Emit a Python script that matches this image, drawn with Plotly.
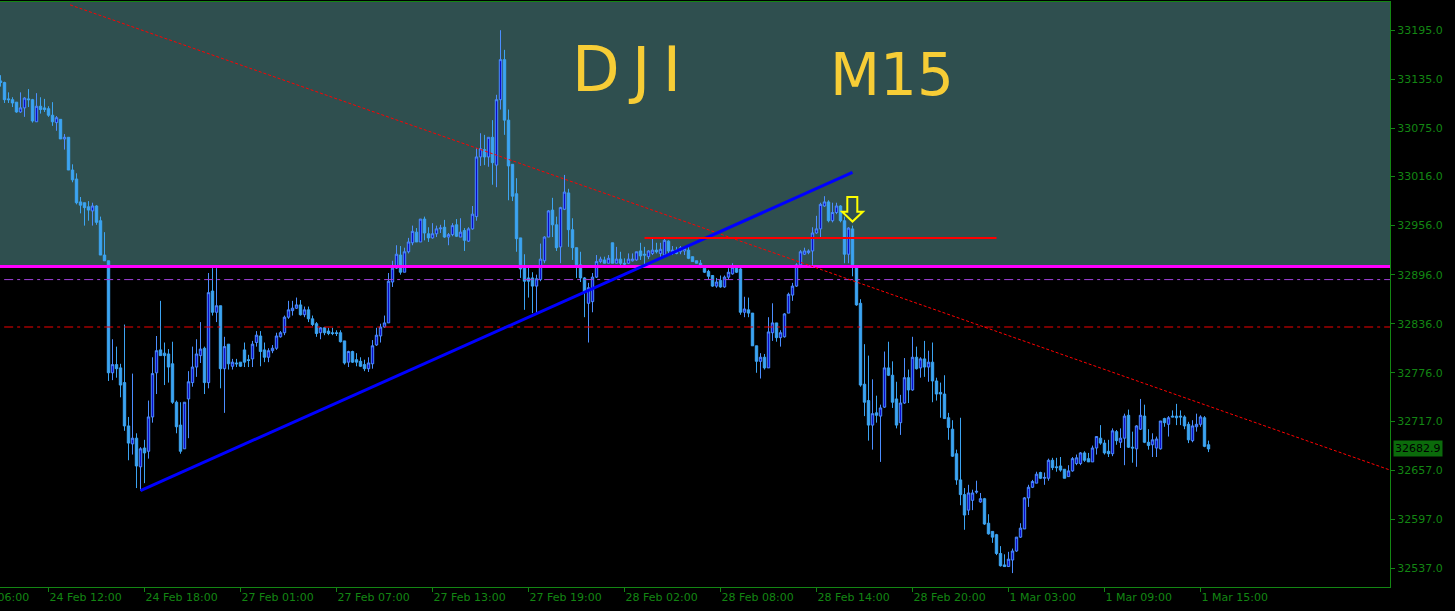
import plotly.graph_objects as go

# ---- DJI M15 candles (one bar every 15 minutes, oldest first) ----
open_ = [
    33133, 33131, 33111, 33110, 33107, 33095, 33100, 33111, 33110, 33083,
    33102, 33100, 33099, 33091, 33082, 33086, 33062, 33064, 33024, 33013,
    32985, 32984, 32979, 32974, 32980, 32962, 32920, 32913, 32776, 32786,
    32782, 32764, 32711, 32689, 32696, 32661, 32684, 32680, 32722, 32776,
    32804, 32800, 32799, 32787, 32740, 32712, 32683, 32744, 32764, 32783,
    32797, 32806, 32764, 32876, 32850, 32858, 32781, 32811, 32784, 32788,
    32789, 32804, 32792, 32793, 32813, 32821, 32804, 32795, 32803, 32806,
    32820, 32825, 32844, 32852, 32855, 32859, 32847, 32853, 32842, 32836,
    32825, 32831, 32827, 32825, 32825, 32825, 32815, 32789, 32802, 32792,
    32790, 32786, 32781, 32787, 32810, 32821, 32832, 32837, 32887, 32904,
    32920, 32899, 32924, 32935, 32948, 32936, 32964, 32946, 32941, 32946,
    32952, 32954, 32942, 32945, 32957, 32942, 32950, 32937, 32952, 32967,
    33040, 33049, 33040, 33064, 33030, 33110, 33159, 33085, 33031, 32995,
    32941, 32905, 32892, 32892, 32882, 32890, 32913, 32942, 32975, 32957,
    32930, 32976, 32996, 32951, 32929, 32908, 32892, 32861, 32863, 32893,
    32912, 32914, 32910, 32935, 32910, 32915, 32910, 32910, 32913, 32914,
    32925, 32921, 32918, 32922, 32926, 32922, 32920, 32937, 32924, 32926,
    32924, 32925, 32926, 32918, 32913, 32910, 32904, 32900, 32895, 32882,
    32889, 32881, 32893, 32897, 32905, 32903, 32850, 32853, 32849, 32809,
    32790, 32795, 32782, 32825, 32837, 32819, 32820, 32849, 32871, 32882,
    32908, 32921, 32923, 32925, 32947, 32952, 32980, 32985, 32962, 32972,
    32980, 32962, 32921, 32952, 32905, 32861, 32762, 32742, 32712, 32727,
    32723, 32734, 32782, 32773, 32744, 32715, 32739, 32770, 32755, 32795,
    32782, 32793, 32783, 32789, 32766, 32752, 32750, 32721, 32707, 32677,
    32645, 32627, 32608, 32620, 32630, 32618, 32622, 32592, 32582, 32578,
    32555, 32541, 32539, 32547, 32558, 32575, 32585, 32623, 32636, 32641,
    32654, 32647, 32647, 32669, 32661, 32662, 32658, 32649, 32656, 32665,
    32665, 32678, 32671, 32667, 32684, 32696, 32690, 32680, 32677, 32704,
    32691, 32696, 32724, 32685, 32683, 32707, 32723, 32691, 32688, 32684,
    32683, 32720, 32713, 32723, 32723, 32723, 32722, 32713, 32693, 32710,
    32713, 32721, 32688,
]
high = [
    33140, 33132, 33119, 33113, 33107, 33119, 33113, 33123, 33111, 33118,
    33113, 33111, 33102, 33107, 33090, 33086, 33068, 33064, 33031, 33020,
    32991, 32984, 32986, 32984, 32981, 32967, 32948, 32913, 32817, 32808,
    32787, 32835, 32722, 32775, 32702, 32685, 32694, 32742, 32795, 32821,
    32864, 32813, 32805, 32814, 32742, 32740, 32740, 32778, 32808, 32817,
    32838, 32808, 32898, 32904, 32904, 32858, 32820, 32811, 32793, 32793,
    32789, 32813, 32798, 32815, 32827, 32827, 32813, 32806, 32810, 32825,
    32827, 32846, 32864, 32864, 32868, 32865, 32857, 32857, 32846, 32838,
    32832, 32832, 32831, 32831, 32828, 32828, 32815, 32803, 32803, 32800,
    32795, 32792, 32795, 32816, 32831, 32836, 32846, 32898, 32913, 32932,
    32931, 32929, 32941, 32956, 32953, 32964, 32967, 32954, 32959, 32956,
    32957, 32963, 32947, 32959, 32964, 32965, 32953, 32954, 32980, 33051,
    33069, 33067, 33064, 33085, 33116, 33195, 33171, 33098, 33031, 33014,
    32941, 32921, 32905, 32899, 32896, 32934, 32943, 32975, 32990, 32967,
    32979, 33018, 33001, 32965, 32929, 32924, 32893, 32886, 32898, 32920,
    32918, 32918, 32920, 32935, 32930, 32924, 32916, 32922, 32922, 32924,
    32935, 32930, 32926, 32940, 32935, 32935, 32940, 32938, 32931, 32930,
    32931, 32930, 32930, 32918, 32913, 32914, 32905, 32902, 32895, 32892,
    32895, 32895, 32904, 32910, 32907, 32904, 32869, 32868, 32849, 32809,
    32800, 32799, 32844, 32861, 32837, 32828, 32849, 32874, 32886, 32910,
    32926, 32929, 32927, 32954, 32968, 32984, 32992, 32987, 32984, 32984,
    32981, 32967, 32954, 32956, 32905, 32866, 32811, 32797, 32768, 32748,
    32737, 32802, 32814, 32790, 32765, 32749, 32794, 32780, 32820, 32808,
    32795, 32815, 32803, 32813, 32770, 32764, 32773, 32727, 32718, 32682,
    32721, 32635, 32639, 32633, 32644, 32629, 32623, 32603, 32582, 32579,
    32564, 32554, 32557, 32561, 32575, 32592, 32624, 32639, 32645, 32655,
    32655, 32654, 32671, 32672, 32672, 32673, 32658, 32663, 32673, 32676,
    32679, 32680, 32678, 32687, 32698, 32712, 32694, 32694, 32708, 32706,
    32708, 32726, 32731, 32704, 32712, 32744, 32737, 32707, 32702, 32698,
    32717, 32721, 32723, 32730, 32738, 32730, 32724, 32716, 32718, 32726,
    32724, 32723, 32693,
]
low = [
    33126, 33106, 33106, 33101, 33094, 33094, 33089, 33101, 33082, 33083,
    33093, 33095, 33089, 33078, 33072, 33062, 33049, 33024, 33009, 32982,
    32971, 32956, 32962, 32956, 32957, 32920, 32913, 32766, 32767, 32770,
    32746, 32705, 32669, 32676, 32635, 32632, 32641, 32671, 32715, 32750,
    32797, 32761, 32764, 32738, 32702, 32677, 32683, 32696, 32759, 32771,
    32788, 32750, 32757, 32846, 32838, 32757, 32727, 32780, 32780, 32783,
    32783, 32783, 32783, 32783, 32808, 32784, 32789, 32789, 32800, 32804,
    32819, 32822, 32842, 32846, 32854, 32846, 32844, 32838, 32833, 32820,
    32817, 32822, 32822, 32822, 32821, 32813, 32786, 32783, 32788, 32784,
    32783, 32778, 32777, 32781, 32809, 32813, 32831, 32837, 32881, 32903,
    32896, 32899, 32922, 32932, 32936, 32936, 32938, 32936, 32940, 32942,
    32947, 32941, 32932, 32943, 32942, 32942, 32925, 32936, 32951, 32962,
    33029, 33030, 33028, 33006, 33003, 33098, 33067, 32987, 32986, 32924,
    32892, 32853, 32868, 32849, 32849, 32888, 32910, 32942, 32942, 32925,
    32910, 32975, 32930, 32914, 32892, 32887, 32844, 32813, 32850, 32892,
    32910, 32910, 32910, 32910, 32910, 32908, 32908, 32909, 32912, 32913,
    32914, 32908, 32915, 32920, 32922, 32915, 32919, 32920, 32920, 32921,
    32921, 32920, 32915, 32912, 32910, 32904, 32898, 32890, 32881, 32880,
    32880, 32880, 32890, 32896, 32898, 32847, 32844, 32844, 32809, 32776,
    32769, 32780, 32782, 32815, 32814, 32808, 32819, 32849, 32864, 32881,
    32904, 32920, 32921, 32908, 32946, 32942, 32979, 32960, 32960, 32970,
    32960, 32910, 32910, 32894, 32858, 32759, 32723, 32693, 32682, 32715,
    32667, 32733, 32772, 32733, 32708, 32700, 32738, 32739, 32754, 32780,
    32770, 32771, 32765, 32740, 32742, 32721, 32720, 32694, 32673, 32639,
    32614, 32584, 32602, 32608, 32628, 32617, 32590, 32578, 32568, 32553,
    32539, 32539, 32539, 32531, 32557, 32574, 32585, 32612, 32635, 32641,
    32646, 32639, 32644, 32657, 32655, 32655, 32647, 32649, 32655, 32663,
    32663, 32667, 32667, 32667, 32676, 32688, 32676, 32673, 32674, 32688,
    32684, 32663, 32684, 32666, 32661, 32706, 32690, 32682, 32673, 32673,
    32682, 32710, 32698, 32722, 32712, 32712, 32707, 32690, 32691, 32704,
    32710, 32685, 32679,
]
close = [
    33131, 33110, 33110, 33106, 33095, 33100, 33112, 33110, 33084, 33102,
    33098, 33098, 33091, 33083, 33088, 33062, 33064, 33024, 33012, 32984,
    32981, 32978, 32975, 32980, 32960, 32920, 32913, 32776, 32786, 32781,
    32761, 32711, 32690, 32696, 32662, 32683, 32678, 32722, 32775, 32803,
    32797, 32797, 32783, 32740, 32710, 32680, 32740, 32765, 32783, 32799,
    32805, 32764, 32874, 32850, 32858, 32781, 32808, 32787, 32789, 32787,
    32784, 32789, 32791, 32811, 32822, 32802, 32795, 32803, 32806, 32821,
    32825, 32844, 32853, 32855, 32859, 32847, 32853, 32842, 32835, 32824,
    32831, 32825, 32824, 32824, 32824, 32814, 32788, 32802, 32789, 32789,
    32784, 32781, 32788, 32809, 32822, 32832, 32837, 32888, 32904, 32921,
    32899, 32924, 32936, 32949, 32936, 32964, 32947, 32941, 32946, 32952,
    32953, 32942, 32945, 32956, 32943, 32948, 32938, 32952, 32970, 33040,
    33050, 33040, 33064, 33033, 33110, 33159, 33085, 33029, 32992, 32940,
    32903, 32888, 32888, 32882, 32891, 32915, 32942, 32974, 32957, 32929,
    32978, 32997, 32951, 32929, 32908, 32892, 32875, 32880, 32893, 32912,
    32915, 32910, 32916, 32910, 32915, 32910, 32909, 32915, 32915, 32924,
    32919, 32920, 32925, 32926, 32924, 32927, 32938, 32925, 32926, 32922,
    32929, 32928, 32916, 32912, 32910, 32905, 32899, 32894, 32882, 32887,
    32881, 32893, 32899, 32905, 32899, 32850, 32854, 32849, 32809, 32790,
    32795, 32782, 32826, 32837, 32819, 32825, 32848, 32872, 32882, 32908,
    32924, 32925, 32925, 32947, 32952, 32982, 32985, 32962, 32972, 32980,
    32962, 32921, 32953, 32908, 32859, 32761, 32740, 32712, 32726, 32724,
    32733, 32782, 32773, 32740, 32712, 32739, 32770, 32755, 32795, 32781,
    32793, 32783, 32789, 32766, 32750, 32750, 32720, 32709, 32674, 32645,
    32627, 32602, 32629, 32629, 32631, 32622, 32591, 32579, 32575, 32555,
    32540, 32539, 32548, 32558, 32575, 32586, 32623, 32636, 32643, 32652,
    32647, 32648, 32669, 32660, 32660, 32657, 32647, 32656, 32671, 32672,
    32678, 32669, 32667, 32684, 32698, 32690, 32678, 32677, 32705, 32693,
    32696, 32723, 32685, 32684, 32711, 32724, 32691, 32687, 32694, 32695,
    32717, 32715, 32721, 32722, 32721, 32722, 32711, 32694, 32711, 32713,
    32722, 32686, 32682.9,
]

# time-axis labels (bar index -> label)
x_tick_bars = [12, 36, 60, 84, 108, 132, 156, 180, 204, 228, 252, 276, 300]
x_tick_text = ["24 Feb 12:00", "24 Feb 18:00", "27 Feb 01:00", "27 Feb 07:00",
               "27 Feb 13:00", "27 Feb 19:00", "28 Feb 02:00", "28 Feb 08:00",
               "28 Feb 14:00", "28 Feb 20:00", "1 Mar 03:00", "1 Mar 09:00",
               "1 Mar 15:00"]
first_label_bar = -12
first_label_text = "24 Feb 06:00"

y_tick_vals = [33195, 33135, 33075, 33016, 32956, 32896, 32836, 32776,
               32717, 32657, 32597, 32537]
y_tick_text = [f"{v:.1f}" for v in y_tick_vals]

# drawn objects / levels
zone_level = 32906            # magenta line, top of shaded zone
purple_level = 32890          # dash-dot
red_dd_level = 32832          # dash-dot
hline_level = 32941
hline_bars = (161, 249)
blue_trend = ((35, 32632), (213, 33021))
red_trend = ((17.4, 33226), (347.4, 32657))
arrow_bar = 213.0
arrow_top, arrow_mid, arrow_tip = 32991, 32973, 32961
last_price = close[-1]

X_RANGE = [-0.125, 347.375]
Y_RANGE = [32514.0, 33229.5]

GREEN = "#138613"
FONT = "DejaVu Sans"
HAND = "#F7CD36"

bars = list(range(len(close)))

fig = go.Figure()
fig.add_trace(go.Candlestick(
    x=bars, open=open_, high=high, low=low, close=close,
    increasing=dict(line=dict(color="#4C8EFF", width=1), fillcolor="#0A0ACD"),
    decreasing=dict(line=dict(color="#3CA4F2", width=1), fillcolor="#3CA4F2"),
    whiskerwidth=0, hoverinfo="skip", showlegend=False,
))

shapes = []
shapes.append(dict(type="rect", xref="paper", yref="y", x0=0, x1=1,
                   y0=zone_level, y1=Y_RANGE[1], fillcolor="#2F4F4F",
                   line=dict(width=0), layer="below"))
shapes.append(dict(type="line", xref="paper", yref="y", x0=0, x1=1,
                   y0=zone_level, y1=zone_level,
                   line=dict(color="#FF00FF", width=3)))
shapes.append(dict(type="line", xref="paper", yref="y", x0=0.003, x1=1,
                   y0=purple_level, y1=purple_level,
                   line=dict(color="#A040D8", width=1, dash="9px,4px,3px,4px")))
shapes.append(dict(type="line", xref="paper", yref="y", x0=0.003, x1=1,
                   y0=red_dd_level, y1=red_dd_level,
                   line=dict(color="#F00000", width=1, dash="9px,4px,3px,4px")))
(rx0, ry0), (rx1, ry1) = red_trend
shapes.append(dict(type="line", xref="x", yref="y", x0=rx0, y0=ry0, x1=rx1, y1=ry1,
                   line=dict(color="#FF0000", width=1, dash="3px,2px")))
(bx0, by0), (bx1, by1) = blue_trend
shapes.append(dict(type="line", xref="x", yref="y", x0=bx0, y0=by0, x1=bx1, y1=by1,
                   line=dict(color="#0000FF", width=3)))
shapes.append(dict(type="line", xref="x", yref="y", x0=hline_bars[0], x1=hline_bars[1],
                   y0=hline_level, y1=hline_level,
                   line=dict(color="#FF0000", width=2)))
a = arrow_bar
path = (f"M {a-1.3},{arrow_top} L {a+1.2},{arrow_top} L {a+1.2},{arrow_mid} "
        f"L {a+2.6},{arrow_mid} L {a},{arrow_tip} L {a-2.6},{arrow_mid} "
        f"L {a-1.3},{arrow_mid} Z")
shapes.append(dict(type="path", xref="x", yref="y", path=path,
                   line=dict(color="#FFFF00", width=2)))

annotations = [
    dict(text="D\u2009J\u2009I", xref="paper", yref="paper", x=0.451, y=0.885,
         xanchor="center", yanchor="middle",
         showarrow=False, font=dict(family=FONT, size=62, color=HAND)),
    dict(text="M15", xref="paper", yref="paper", x=0.642, y=0.875,
         xanchor="center", yanchor="middle",
         showarrow=False, font=dict(family=FONT, size=58, color=HAND)),
    dict(text=f"{last_price:.1f}", xref="paper", yref="y", x=1, y=last_price,
         xanchor="left", yanchor="middle", xshift=3, showarrow=False,
         bgcolor="#0B6B0B", borderpad=1,
         font=dict(family=FONT, size=11, color="#000000")),
    dict(text=first_label_text, xref="paper", yref="paper",
         x=(first_label_bar - X_RANGE[0]) / (X_RANGE[1] - X_RANGE[0]), y=0,
         xanchor="left", yanchor="top", xshift=3, yshift=-2, showarrow=False,
         font=dict(family=FONT, size=11, color=GREEN)),
]

fig.update_layout(
    width=1455, height=611,
    margin=dict(l=0, r=65, t=2, b=24),
    paper_bgcolor="#000000", plot_bgcolor="#000000",
    boxgap=0.15,
    shapes=shapes, annotations=annotations, showlegend=False,
    xaxis=dict(range=X_RANGE, rangeslider=dict(visible=False),
               tickvals=x_tick_bars, ticktext=x_tick_text,
               ticks="outside", ticklen=4, tickcolor=GREEN,
               ticklabelposition="outside right",
               tickfont=dict(family=FONT, size=11, color=GREEN),
               showgrid=False, zeroline=False, showline=True, mirror=True,
               linecolor=GREEN, linewidth=1),
    yaxis=dict(range=Y_RANGE, side="right", tickvals=y_tick_vals, ticktext=y_tick_text,
               ticks="outside", ticklen=4, tickcolor=GREEN,
               tickfont=dict(family=FONT, size=11, color=GREEN),
               showgrid=False, zeroline=False, showline=True, mirror=True,
               linecolor=GREEN, linewidth=1),
)

fig.write_html("out.html", config={"displayModeBar": False},
               post_script="document.body.style.margin='0';document.body.style.background='#000';")
